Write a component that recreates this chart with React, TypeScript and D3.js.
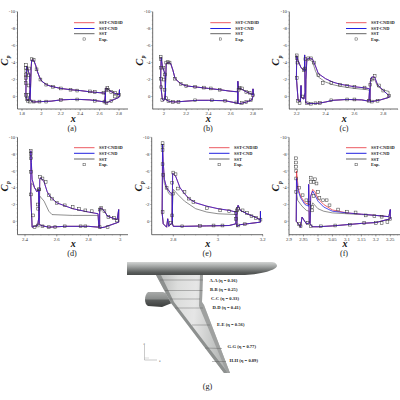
import React from "react";
import * as d3 from "d3";

type P = [number, number];
const SERIES = ["SST-CND3D", "SST-CND", "SST", "Exp."];
const COLORS = ["#e8323c", "#1a1ae0", "#444444"];
const DRAW_ORDER = [2, 0, 1];

// Panel (a)
const aSlat: P[] = [[1.84,-0.1],[1.842,-2],[1.848,-3.6],[1.858,-3.4],[1.868,-2.9],[1.878,-2.5],[1.882,-0.8],[1.875,0.3],[1.86,0.5],[1.85,0.3],[1.84,-0.1]];
const aMain: P[] = [[1.885,0.2],[1.888,-1],[1.895,-3.5],[1.9,-4.3],[1.92,-4.3],[1.94,-3.7],[1.96,-2.9],[1.98,-2.3],[2,-1.85],[2.05,-1.4],[2.1,-1.2],[2.2,-0.95],[2.3,-0.8],[2.4,-0.7],[2.5,-0.55],[2.6,-0.45],[2.655,-0.4],[2.66,-0.1],[2.655,0.65],[2.6,0.55],[2.5,0.4],[2.4,0.35],[2.3,0.35],[2.2,0.4],[2.1,0.55],[2,0.6],[1.92,0.65],[1.895,0.55],[1.885,0.2]];
const aFlap: P[] = [[2.655,0.7],[2.66,-0.3],[2.665,-1],[2.68,-0.95],[2.7,-0.7],[2.74,-0.45],[2.8,-0.2],[2.805,-0.8],[2.805,-0.1],[2.8,0.1],[2.75,0.35],[2.7,0.6],[2.66,0.8],[2.655,0.7]];
const aExp: P[] = [[1.84,-3.7],[1.842,-3.4],[1.844,-3],[1.842,-2.6],[1.84,-2.2],[1.838,-1.6],[1.84,-0.2],[1.85,0.3],[1.862,0.5],[1.865,-0.2],[1.868,-1.3],[1.87,-2.5],[1.872,-3.3],[1.88,0.6],[1.9,-4.4],[1.92,-4.3],[1.95,-3.2],[1.99,-2],[2.05,-1.4],[2.12,-1.15],[2.2,-0.95],[2.3,-0.8],[2.37,-0.7],[2.5,-0.6],[2.55,-0.55],[2.64,-0.45],[2.67,-0.8],[2.68,-1],[2.69,-0.8],[2.72,-0.55],[2.76,-0.4],[2.8,-0.2],[1.92,0.6],[1.98,0.6],[2.05,0.6],[2.2,0.4],[2.37,0.35],[2.55,0.5],[2.65,0.6],[2.67,0.8],[2.72,0.55],[2.76,0]];

// Panel (b)
const bSlat: P[] = [[1.97,-2],[1.972,-3.5],[1.975,-4.6],[1.985,-3.6],[2,-3],[2.01,-2.6],[2.012,-0.5],[2.005,0.4],[1.995,0.5],[1.985,0.3],[1.975,-0.8],[1.97,-2]];
const bMain: P[] = [[2.012,0.2],[2.014,-1.5],[2.02,-3.9],[2.04,-4],[2.06,-3.9],[2.08,-3.1],[2.1,-2.1],[2.15,-1.5],[2.2,-1.25],[2.3,-1.1],[2.4,-0.95],[2.5,-0.8],[2.6,-0.62],[2.665,-0.55],[2.665,0.8],[2.55,0.5],[2.4,0.45],[2.3,0.45],[2.1,0.65],[2.05,0.6],[2.02,0.4],[2.012,0.2]];
const bFlap: P[] = [[2.662,0.8],[2.664,-1.8],[2.668,-0.9],[2.68,-1],[2.7,-0.85],[2.74,-0.55],[2.8,-0.2],[2.8,-0.9],[2.802,-0.1],[2.79,0.4],[2.74,0.65],[2.68,0.85],[2.662,0.8]];
const bExp: P[] = [[1.97,-4.7],[1.97,-4.4],[1.97,-3.4],[1.972,-2.1],[1.975,-1.1],[1.985,0.4],[1.995,-3.4],[2,-2],[2.005,-0.8],[2.01,-2.6],[2.02,-4],[2.035,-4.05],[2.05,-4],[2.1,-2.1],[2.15,-1.5],[2.2,-1.25],[2.28,-1.15],[2.36,-1.05],[2.42,-0.95],[2.5,-0.8],[2.02,0.2],[2.04,0.55],[2.08,0.65],[2.13,0.65],[2.28,0.45],[2.43,0.45],[2.55,0.5],[2.65,0.7],[2.67,-0.8],[2.68,-1],[2.7,-0.95],[2.74,-0.55],[2.77,-0.45],[2.8,-0.15],[2.7,0.75],[2.74,0.65],[2.78,0.45]];

// Panel (c)
const cSlat: P[] = [[2.198,-2.2],[2.2,-4.8],[2.21,-4.2],[2.23,-3.4],[2.25,-3.1],[2.255,-3],[2.255,-4.9],[2.258,-0.5],[2.25,0.3],[2.232,0.1],[2.23,-1.3],[2.226,0.6],[2.21,0.5],[2.198,-2.2]];
const cMain: P[] = [[2.262,0.7],[2.264,-2],[2.27,-4.4],[2.29,-4.55],[2.31,-4.4],[2.33,-3.6],[2.35,-2.7],[2.4,-2.1],[2.45,-1.7],[2.5,-1.45],[2.6,-1.15],[2.68,-1],[2.705,-0.9],[2.7,0.55],[2.65,0.4],[2.55,0.35],[2.45,0.45],[2.4,0.65],[2.35,0.8],[2.28,0.85],[2.262,0.7]];
const cMainSST: P[] = [[2.262,0.7],[2.264,-2],[2.27,-4.2],[2.29,-4.3],[2.31,-4.1],[2.33,-3],[2.35,-2.3],[2.4,-1.7],[2.45,-1.4],[2.5,-1.2],[2.6,-0.95],[2.69,-0.8],[2.705,-0.7],[2.7,0.55],[2.65,0.4],[2.55,0.35],[2.45,0.45],[2.4,0.65],[2.35,0.8],[2.28,0.85],[2.262,0.7]];
const cFlap: P[] = [[2.708,0.6],[2.71,-1.8],[2.72,-2.3],[2.74,-2.3],[2.76,-1.4],[2.8,-0.7],[2.84,-0.1],[2.84,0.1],[2.78,0.4],[2.72,0.6],[2.708,0.6]];
const cFlapSST: P[] = [[2.708,0.6],[2.71,-1.6],[2.72,-2],[2.74,-2],[2.76,-1.2],[2.8,-0.75],[2.84,-0.6],[2.84,0.1],[2.78,0.4],[2.72,0.6],[2.708,0.6]];
const cExp: P[] = [[2.2,-4.85],[2.2,-4.5],[2.205,-4],[2.2,-2.2],[2.21,0.5],[2.22,0.8],[2.24,0],[2.25,-3.1],[2.255,-3.3],[2.26,-4.4],[2.28,-4.5],[2.3,-4.5],[2.32,-4],[2.35,-2.5],[2.38,-1.6],[2.44,-1.6],[2.5,-1.4],[2.55,-1.25],[2.6,-1.15],[2.67,-1.05],[2.71,-1.4],[2.72,-2],[2.74,-2.4],[2.77,-1.3],[2.8,-0.7],[2.84,-0.1],[2.27,0.8],[2.3,0.85],[2.33,0.8],[2.36,0.75],[2.44,0.45],[2.55,0.35],[2.6,0.35],[2.7,0.5],[2.72,0.6],[2.76,0.5]];

// Panel (d)
const dSlat: P[] = [[2.436,-3.2],[2.437,-8.4],[2.44,-7],[2.445,-5],[2.46,-4],[2.475,-3.5],[2.485,-3.8],[2.487,-0.5],[2.48,0.5],[2.46,0.6],[2.445,0.7],[2.436,-3.2]];
const dSlatSST: P[] = [[2.436,-3.2],[2.44,-4.5],[2.45,-4.4],[2.46,-4],[2.475,-3.7],[2.485,-3.8],[2.487,-0.5],[2.48,0.5],[2.46,0.6],[2.445,0.7],[2.436,-3.2]];
const dMain: P[] = [[2.49,0.3],[2.49,-1],[2.493,-5],[2.5,-5.2],[2.52,-4.7],[2.54,-3.5],[2.56,-2.9],[2.6,-2.2],[2.7,-1.5],[2.8,-1.1],[2.86,-0.9],[2.865,0.7],[2.8,0.6],[2.65,0.6],[2.55,0.7],[2.5,0.5],[2.49,0.3]];
const dMainSST: P[] = [[2.49,0.3],[2.49,-1],[2.493,-3],[2.52,-2.4],[2.55,-1.2],[2.57,-0.8],[2.7,-0.7],[2.86,-0.7],[2.865,0.7],[2.8,0.6],[2.65,0.6],[2.55,0.7],[2.5,0.5],[2.49,0.3]];
const dFlap: P[] = [[2.87,0.8],[2.87,-1.5],[2.88,-1.6],[2.9,-1.2],[2.92,-0.6],[2.98,-0.2],[2.99,-1.4],[2.99,0.1],[2.9,0.7],[2.87,0.8]];
const dExp: P[] = [[2.436,-8.4],[2.436,-8],[2.437,-7.5],[2.437,-5.9],[2.437,-3.2],[2.45,-0.7],[2.46,0.7],[2.48,-2],[2.483,-1.5],[2.487,-3.8],[2.49,-3.8],[2.495,-5.3],[2.51,-5.1],[2.53,-4.7],[2.55,-3.1],[2.57,-2.7],[2.6,-2.2],[2.65,-1.9],[2.7,-1.7],[2.74,-1.45],[2.78,-1.3],[2.82,-1.2],[2.87,-1.4],[2.88,-1.6],[2.9,-1.2],[2.925,-0.5],[2.96,-0.4],[2.98,-0.1],[2.48,0.5],[2.51,0.6],[2.55,0.7],[2.59,0.7],[2.65,0.6],[2.75,0.6],[2.78,0.6],[2.87,0.7],[2.92,0.7]];

// Panel (e)
const eSlat: P[] = [[2.75,-1],[2.752,-9.2],[2.755,-7],[2.76,-5],[2.77,-4],[2.79,-3.3],[2.795,-3.2],[2.796,0.1],[2.78,0.6],[2.775,-0.3],[2.77,0.7],[2.755,0.3],[2.75,-1]];
const eSlatSST: P[] = [[2.75,-1],[2.752,-6.5],[2.76,-4.5],[2.78,-3.3],[2.795,-3],[2.796,0.1],[2.78,0.6],[2.775,-0.3],[2.77,0.7],[2.755,0.3],[2.75,-1]];
const eMain: P[] = [[2.795,0.2],[2.795,-1],[2.797,-5.7],[2.81,-5.4],[2.83,-4],[2.85,-3.3],[2.87,-2.7],[2.9,-2.2],[2.95,-1.8],[3,-1.5],[3.05,-1.3],[3.08,-1.1],[3.08,0.3],[3.05,0.5],[2.95,0.55],[2.85,0.6],[2.8,0.6],[2.795,0.2]];
const eMainSST: P[] = [[2.795,0.2],[2.795,-1],[2.8,-3.8],[2.82,-3.2],[2.85,-2.4],[2.9,-1.5],[2.95,-1.1],[3,-0.9],[3.08,-0.8],[3.08,0.3],[3.05,0.5],[2.95,0.55],[2.85,0.6],[2.8,0.6],[2.795,0.2]];
const eFlap: P[] = [[3.085,0.6],[3.085,-1.5],[3.09,-1.9],[3.1,-1.3],[3.13,-0.9],[3.17,-0.45],[3.19,-0.15],[3.19,-1.2],[3.19,0.1],[3.1,0.4],[3.085,0.6]];
const eExp: P[] = [[2.752,-9.3],[2.752,-9],[2.752,-8.5],[2.752,-6.8],[2.755,-5.5],[2.752,-1.1],[2.77,-4],[2.795,-4.6],[2.8,-5.8],[2.81,-5.6],[2.795,-0.7],[2.79,0.2],[2.8,-3.3],[2.82,-3.9],[2.85,-3.5],[2.87,-2.7],[2.89,-2.3],[2.95,-1.55],[3.01,-1.3],[3.05,-1.2],[3.08,-1],[3.085,-1.3],[3.09,-1.5],[3.11,-1.3],[3.13,-1],[3.15,-0.6],[3.17,-0.4],[3.19,-0.2],[2.84,0.6],[2.92,0.55],[2.98,0.5],[3.02,0.5],[3.08,-0.3],[3.09,0.5],[3.12,0.35]];

// Panel (f)
const fSlat3D: P[] = [[2.925,0],[2.926,-6],[2.932,-3.9],[2.94,-3],[2.955,-2.2],[2.968,-2],[2.968,-4.4],[2.97,0.2],[2.96,0.3],[2.945,-0.5],[2.94,0.7],[2.93,0.2],[2.925,0]];
const fSlat: P[] = [[2.925,0],[2.926,-5.1],[2.932,-3.6],[2.94,-2.8],[2.955,-2],[2.968,-1.8],[2.968,-4.4],[2.97,0.2],[2.96,0.3],[2.945,-0.5],[2.94,0.7],[2.93,0.2],[2.925,0]];
const fSlatSST: P[] = [[2.925,0],[2.926,-3.5],[2.93,-2.5],[2.945,-1.8],[2.96,-1.3],[2.97,-1.2],[2.97,0.2],[2.96,0.3],[2.945,-0.5],[2.94,0.7],[2.93,0.2],[2.925,0]];
const fMain3D: P[] = [[2.973,0.3],[2.975,-3],[2.982,-3.8],[2.99,-3.5],[3,-2.7],[3.02,-2],[3.05,-1.35],[3.1,-1],[3.15,-0.85],[3.2,-0.7],[3.245,-0.55],[3.25,-1.4],[3.25,-0.3],[3.2,0.15],[3.15,0.25],[3.1,0.4],[3.05,0.55],[3,0.65],[2.98,0.65],[2.973,0.3]];
const fMain: P[] = [[2.973,0.3],[2.975,-3],[2.982,-3.6],[2.99,-3.1],[3,-2.4],[3.02,-1.7],[3.05,-1.2],[3.1,-1],[3.15,-0.85],[3.2,-0.7],[3.245,-0.55],[3.25,-1.4],[3.25,-0.3],[3.2,0.15],[3.15,0.25],[3.1,0.4],[3.05,0.55],[3,0.65],[2.98,0.65],[2.973,0.3]];
const fMainSST: P[] = [[2.973,0.3],[2.975,-1.5],[2.982,-2.2],[3,-1.5],[3.02,-1.2],[3.05,-1],[3.1,-0.9],[3.15,-0.8],[3.2,-0.7],[3.245,-0.55],[3.25,-1.4],[3.25,-0.3],[3.2,0.15],[3.15,0.25],[3.1,0.4],[3.05,0.55],[3,0.65],[2.98,0.65],[2.973,0.3]];
const fExp: P[] = [[2.924,-7.5],[2.924,-7],[2.924,-6.5],[2.925,-6],[2.925,-5.1],[2.925,-3.5],[2.935,-4],[2.947,-3.1],[2.96,-2.5],[2.97,-2.2],[2.975,-5.2],[2.975,-4.7],[2.985,-4.7],[2.99,-5],[2.995,-4.5],[2.98,-1.7],[2.98,-1.3],[2.985,-3],[3,-3.5],[3.005,-2.8],[3.018,-2.5],[3.03,-2.5],[3.04,-1.9],[3.07,-1.4],[3.1,-1.15],[3.13,-1.05],[3.165,-0.7],[3.195,-0.6],[3.22,-0.55],[3.25,-0.3],[3.01,0.6],[3.06,0.5],[3.11,0.4],[3.16,0.2],[3.2,0.2],[3.22,0.2],[3.24,0.1],[2.935,0.3],[2.94,0.6],[2.965,0.2],[2.975,0.6]];

const aTicks = [1.8, 2, 2.2, 2.4, 2.6, 2.8];
const bTicks = [2, 2.2, 2.4, 2.6, 2.8];
const cTicks = [2.2, 2.4, 2.6, 2.8];
const dTicks = [2.4, 2.6, 2.8, 3];
const eTicks = [2.8, 3, 3.2];
const fTicks = [2.9, 2.95, 3, 3.05, 3.1, 3.15, 3.2, 3.25];
const yTicks = [-10, -8, -6, -4, -2, 0];

type Panel = {
  caption: string; ticks: number[]; x0: number; x1: number; left: number; right: number;
  xpx: [number, number]; top: number; zero: number; bottom: number;
  legX: number; legY: number[]; capX: number; capY: number; labY: number;
  curves: P[][][]; exp: P[];
};

const topLeg = [22.7, 28.5, 33.7, 39];
const botLeg = [147.7, 153.3, 159, 164.7];
const panels: Panel[] = [
  { caption: "(a)", ticks: aTicks, x0: 1.8, x1: 2.8, xpx: [22, 119], left: 17.5, right: 128, top: 11.7, zero: 96.5, bottom: 109, legX: 74, legY: topLeg, capX: 72, capY: 131, labY: 122,
    curves: [[aSlat, aMain, aFlap], [aSlat, aMain, aFlap], [aSlat, aMain, aFlap]], exp: aExp },
  { caption: "(b)", ticks: bTicks, x0: 2, x1: 2.8, xpx: [164, 253], left: 152.7, right: 263, top: 11.7, zero: 96.5, bottom: 109, legX: 210.3, legY: topLeg, capX: 208, capY: 131, labY: 122,
    curves: [[bSlat, bMain, bFlap], [bSlat, bMain, bFlap], [bSlat, bMain, bFlap]], exp: bExp },
  { caption: "(c)", ticks: cTicks, x0: 2.2, x1: 2.8, xpx: [296.7, 383.3], left: 289.3, right: 398, top: 11.7, zero: 96.5, bottom: 109, legX: 346, legY: topLeg, capX: 344, capY: 131, labY: 122,
    curves: [[cSlat, cMain, cFlap], [cSlat, cMain, cFlap], [cSlat, cMainSST, cFlapSST]], exp: cExp },
  { caption: "(d)", ticks: dTicks, x0: 2.4, x1: 3, xpx: [25, 120.3], left: 17.5, right: 128, top: 137.3, zero: 221.3, bottom: 234.7, legX: 74, legY: botLeg, capX: 72, capY: 256, labY: 247,
    curves: [[dSlat, dMain, dFlap], [dSlat, dMain, dFlap], [dSlatSST, dMainSST, dFlap]], exp: dExp },
  { caption: "(e)", ticks: eTicks, x0: 2.8, x1: 3.2, xpx: [173.3, 262.7], left: 151.7, right: 263, top: 137.3, zero: 221.3, bottom: 234.7, legX: 209, legY: botLeg, capX: 207, capY: 256, labY: 247,
    curves: [[eSlat, eMain, eFlap], [eSlat, eMain, eFlap], [eSlatSST, eMainSST, eFlap]], exp: eExp },
  { caption: "(f)", ticks: fTicks, x0: 2.9, x1: 3.25, xpx: [289, 390.3], left: 289, right: 400, top: 137.3, zero: 221.3, bottom: 234.7, legX: 346, legY: botLeg, capX: 344, capY: 256, labY: 247,
    curves: [[fSlat3D, fMain3D], [fSlat, fMain], [fSlatSST, fMainSST]], exp: fExp },
];

const wingLabels = ["A-A", "B-B", "C-C", "D-D", "E-E", "G-G", "H-H"];
const wingEta = ["0.16", "0.25", "0.33", "0.41", "0.56", "0.77", "0.89"];
const wingLabelX = [209.5, 210, 211, 212.5, 217, 227.5, 229.5];
const wingLabelY = [282, 291, 300, 309, 325.5, 348, 362];
const wingSecLeft: P[] = [[160, 280], [165, 290.5], [170, 299], [175, 308], [192, 325], [205, 348], [212, 361.5]];
const wingSecRight: P[] = [[203, 280], [202.5, 290.5], [200, 299], [203, 308], [210, 325], [222, 348.5], [226, 361.5]];

const serif = "'Liberation Serif', serif";

function ChartPanel({ p }: { p: Panel }) {
  const x = d3.scaleLinear().domain([p.x0, p.x1]).range(p.xpx);
  const y = d3.scaleLinear().domain([0, -10]).range([p.zero, p.top]);
  const line = d3.line<P>().x((d) => x(d[0])).y((d) => y(d[1]));
  const minorStep = (p.ticks[1] - p.ticks[0]) / 4;
  const minors = d3.range(Math.ceil((x.invert(p.left)) / minorStep), Math.floor(x.invert(p.right) / minorStep) + 1).map((k) => k * minorStep);
  const yMinors = d3.range(-10, 1.1, 0.5);
  const midX = (p.left + p.right) / 2;
  const midY = (p.top + p.bottom) / 2;
  return (
    <g fontFamily={serif}>
      <line x1={p.left} x2={p.left} y1={p.top} y2={p.bottom} stroke="#444" strokeWidth={0.8} />
      <line x1={p.left} x2={p.right} y1={p.bottom} y2={p.bottom} stroke="#444" strokeWidth={0.8} />
      {yMinors.map((v) => (
        <line key={v} x1={p.left} x2={p.left - (v % 2 === 0 ? 1.8 : 0.9)} y1={y(v)} y2={y(v)} stroke="#555" strokeWidth={0.35} />
      ))}
      {minors.map((v, i) => (
        <line key={i} x1={x(v)} x2={x(v)} y1={p.bottom} y2={p.bottom + 0.9} stroke="#555" strokeWidth={0.3} />
      ))}
      {p.ticks.map((v) => (
        <g key={v}>
          <line x1={x(v)} x2={x(v)} y1={p.bottom} y2={p.bottom + 1.8} stroke="#333" strokeWidth={0.4} />
          <text x={x(v)} y={p.bottom + 5.8} fontSize={4.8} textAnchor="middle" fill="#333">{v}</text>
        </g>
      ))}
      {yTicks.map((v) => (
        <text key={v} x={p.left - 2.3} y={y(v) + 1.7} fontSize={4.8} textAnchor="end" fill="#333">{v}</text>
      ))}
      <text fontSize={10.5} fontWeight="bold" fontStyle="italic" textAnchor="middle" fill="#111"
        transform={`translate(${p.left - 10} ${midY + 2}) rotate(-90)`}>C</text>
      <text fontSize={5.5} fontWeight="bold" fontStyle="italic" textAnchor="middle" fill="#111"
        transform={`translate(${p.left - 7.5} ${midY - 3.5}) rotate(-90)`}>p</text>
      <text x={midX + 0.5} y={p.labY} fontSize={10} fontWeight="bold" fontStyle="italic" textAnchor="middle" fill="#111">x</text>
      <text x={p.capX} y={p.capY} fontSize={8.2} textAnchor="middle" fill="#222">{p.caption}</text>
      {DRAW_ORDER.map((i) => p.curves[i].map((c, j) => (
        <path key={`${i}-${j}`} d={line(c) ?? ""} fill="none" stroke={COLORS[i]} strokeWidth={i === 2 ? 0.6 : 0.75} />
      )))}
      {p.exp.map((d, i) => (
        <rect key={i} x={x(d[0]) - 1.4} y={y(d[1]) - 1.4} width={2.8} height={2.8} fill="none" stroke="#333" strokeWidth={0.5} />
      ))}
      {SERIES.map((s, i) => (
        <g key={s}>
          {i < 3
            ? <line x1={p.legX} x2={p.legX + 20.5} y1={p.legY[i]} y2={p.legY[i]} stroke={i === 0 ? "#ec5a62" : i === 1 ? "#2222e0" : "#666"} strokeWidth={1} />
            : <rect x={p.legX + 9} y={p.legY[i] - 1.1} width={2.2} height={2.2} fill="none" stroke="#222" strokeWidth={0.4} />}
          <text x={p.legX + 25} y={p.legY[i] + 1.5} fontSize={4.4} fontWeight="bold" fill="#222">{s}</text>
        </g>
      ))}
    </g>
  );
}

function Wing() {
  return (
    <g>
      <defs>
        <linearGradient id="fus" x1="0" x2="0" y1="0" y2="1">
          <stop offset="0" stopColor="#d2d4d3" />
          <stop offset="0.35" stopColor="#a0a3a2" />
          <stop offset="0.8" stopColor="#5a5d5c" />
          <stop offset="1" stopColor="#4a4c4b" />
        </linearGradient>
        <linearGradient id="wng" x1="0" x2="1" y1="0" y2="0.1">
          <stop offset="0" stopColor="#b4b6b5" />
          <stop offset="0.3" stopColor="#dcdddc" />
          <stop offset="0.55" stopColor="#e6e6e6" />
          <stop offset="0.8" stopColor="#c8cac9" />
          <stop offset="1" stopColor="#b0b2b1" />
        </linearGradient>
        <linearGradient id="nac" x1="0" x2="0" y1="0" y2="1">
          <stop offset="0" stopColor="#a9abaa" />
          <stop offset="0.45" stopColor="#8a8d8c" />
          <stop offset="0.55" stopColor="#5a5d5c" />
          <stop offset="1" stopColor="#3c3e3d" />
        </linearGradient>
      </defs>
      <path d="M148 292 C144 295 144 304 148 306 L162 307 L172 303 L171 295 L163 292 Z" fill="url(#nac)" />
      <path d="M156 275 L203 275 L202 302 L204 305 L230 373 L224 373 L171 303 Z" fill="url(#wng)" />
      <path d="M156 275 L161 275 L174 302 L228 373 L224 373 L171 303 Z" fill="#8d908f" />
      <path d="M203 275 L202 302 L204 305 L230 373 L227 373 L199 306 L200 275 Z" fill="#9fa1a0" />
      <path d="M127 262 L272 262 C276 262 277 265 277 266 C276 270 262 274 245 275 L127 275 Z" fill="url(#fus)" />
      {wingSecLeft.map((d, i) => (
        <line key={i} x1={d[0]} y1={d[1]} x2={wingSecRight[i][0]} y2={wingSecRight[i][1]} stroke="#555" strokeWidth={0.4} />
      ))}
      {wingLabels.map((s, i) => (
        <text key={s} x={wingLabelX[i]} y={wingLabelY[i]} fontSize={4.6} fontWeight="bold" fontFamily={serif} fill="#222">
          {`${s} (η = ${wingEta[i]})`}
        </text>
      ))}
      <line x1={144.5} x2={144.5} y1={345} y2={360} stroke="#666" strokeWidth={0.35} />
      <line x1={144.5} x2={157} y1={360} y2={360} stroke="#666" strokeWidth={0.35} />
      <line x1={144.5} x2={149} y1={358} y2={358} stroke="#999" strokeWidth={0.35} />
      <text x={159} y={361.5} fontSize={2.8} fontFamily="'DejaVu Sans'" fill="#444">x</text>
      <text x={143.5} y={344.5} fontSize={2.8} fontFamily="'DejaVu Sans'" fill="#444">z</text>
      <text x={207.5} y={389} fontSize={8.2} textAnchor="middle" fontFamily={serif} fill="#222">(g)</text>
    </g>
  );
}

export default function App() {
  return (
    <svg width={400} height={400} viewBox="0 0 400 400" style={{ position: "absolute", left: 0, top: 0, background: "#fff" }}>
      {panels.map((p) => <ChartPanel key={p.caption} p={p} />)}
      <Wing />
    </svg>
  );
}
